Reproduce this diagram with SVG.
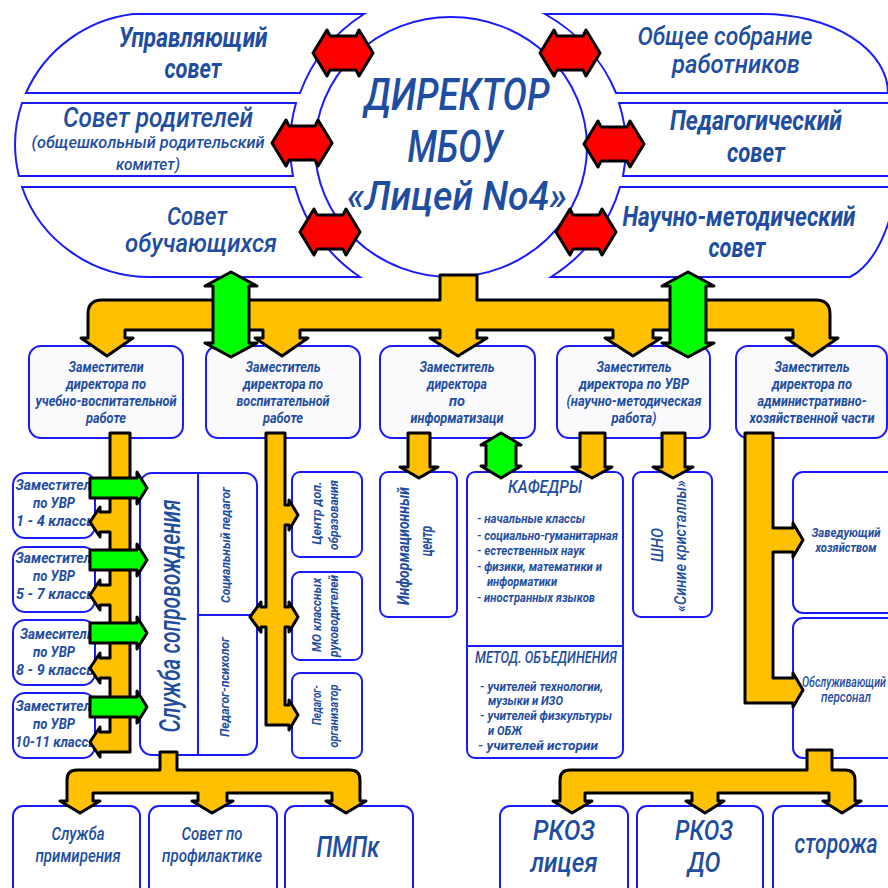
<svg xmlns="http://www.w3.org/2000/svg" width="888" height="888" viewBox="0 0 888 888">
<style>
.box{fill:#fff;stroke:#1a1aff;stroke-width:2}
.dep{fill:#fafafd;stroke:#1a1aff;stroke-width:2}
.ln{stroke:#1a1aff;stroke-width:2;fill:none}
.t{font-family:Roboto,"Liberation Sans",sans-serif;font-style:italic;font-weight:500;fill:#1f4ea1;text-anchor:middle}
.s{text-anchor:start}
.b{font-weight:bold}
.y{fill:#ffc000;stroke:#000;stroke-width:3;stroke-linejoin:round}
.g{fill:#00ff00;stroke:#000;stroke-width:3;stroke-linejoin:round}
.r{fill:#ff0000;stroke:#000;stroke-width:3;stroke-linejoin:round}
</style>
<defs>
<path id="red" d="M-30,0 L-16,-23 L-13,-17 L13,-17 L16,-23 L30,0 L16,23 L13,17 L-13,17 L-16,23 Z"/>
<path id="grn" d="M0,0 L26,14 L18,14 L18,71 L26,71 L0,85 L-26,71 L-18,71 L-18,14 L-26,14 Z"/>
<path id="gr" d="M0,-10 L47,-10 L47,-16 L57,0 L47,16 L47,10 L0,10 Z"/>
</defs>
<rect width="888" height="888" fill="#fff"/>

<g id="upravl">
<path class="box" d="M133,14 L364,14 A161 158 0 0 0 300,93 L26,93 A135 132 0 0 1 133,14 Z"/>
<text class="t b" x="193" y="47" font-size="27" textLength="149" lengthAdjust="spacingAndGlyphs">Управляющий</text>
<text class="t b" x="193" y="78" font-size="27" textLength="57" lengthAdjust="spacingAndGlyphs">совет</text>
</g>
<g id="roditeli">
<path class="box" d="M22,103 L296,103 A161 158 0 0 0 293,176 L19,176 A135 132 0 0 1 22,103 Z"/>
<text class="t" x="158" y="127" font-size="27" textLength="190" lengthAdjust="spacingAndGlyphs">Совет родителей</text>
<text class="t" x="148" y="148" font-size="16" textLength="233" lengthAdjust="spacingAndGlyphs">(общешкольный родительский</text>
<text class="t" x="148" y="170" font-size="16" textLength="64" lengthAdjust="spacingAndGlyphs">комитет)</text>
</g>
<g id="obuch">
<path class="box" d="M22,187 L295,187 A161 158 0 0 0 360,277 L150,277 A135 132 0 0 1 22,187 Z"/>
<text class="t" x="197" y="225" font-size="25" textLength="60" lengthAdjust="spacingAndGlyphs">Совет</text>
<text class="t" x="201" y="252" font-size="25" textLength="152" lengthAdjust="spacingAndGlyphs">обучающихся</text>
</g>
<g id="sobranie">
<path class="box" d="M545,14 L763,14 A125 79 0 0 1 888,93 L616,93 A175 158 0 0 0 545,14 Z"/>
<text class="t" x="725" y="45" font-size="25" textLength="175" lengthAdjust="spacingAndGlyphs">Общее собрание</text>
<text class="t" x="736" y="73" font-size="25" textLength="128" lengthAdjust="spacingAndGlyphs">работников</text>
</g>
<g id="pedsovet">
<path class="box" d="M619,103 L895,103 L895,176 L623,176 A175 158 0 0 0 619,103 Z"/>
<text class="t b" x="756" y="130" font-size="27" textLength="172" lengthAdjust="spacingAndGlyphs">Педагогический</text>
<text class="t b" x="756" y="162" font-size="27" textLength="58" lengthAdjust="spacingAndGlyphs">совет</text>
</g>
<g id="nms">
<path class="box" d="M620,187 L895,187 L895,200 Q880,262 850,277 L551,277 A175 158 0 0 0 620,187 Z"/>
<text class="t b" x="739" y="226" font-size="27" textLength="233" lengthAdjust="spacingAndGlyphs">Научно-методический</text>
<text class="t b" x="737" y="257" font-size="27" textLength="57" lengthAdjust="spacingAndGlyphs">совет</text>
</g>
<g id="director">
<ellipse class="box" cx="451" cy="147" rx="136" ry="130"/>
<text class="t" x="457" y="110" font-size="45" textLength="185" lengthAdjust="spacingAndGlyphs">ДИРЕКТОР</text>
<text class="t" x="455" y="162" font-size="45" textLength="95" lengthAdjust="spacingAndGlyphs">МБОУ</text>
<text class="t" x="457" y="210" font-size="40" textLength="220" lengthAdjust="spacingAndGlyphs">«Лицей No4»</text>
</g>

<g id="dep1">
<rect class="dep" x="29" y="346" width="154" height="92" rx="12"/>
<text class="t b" x="106" y="372" font-size="14" textLength="75" lengthAdjust="spacingAndGlyphs">Заместители</text>
<text class="t b" x="106" y="389" font-size="14" textLength="80" lengthAdjust="spacingAndGlyphs">директора по</text>
<text class="t b" x="106" y="406" font-size="14" textLength="141" lengthAdjust="spacingAndGlyphs">учебно-воспитательной</text>
<text class="t b" x="106" y="423" font-size="14" textLength="40" lengthAdjust="spacingAndGlyphs">работе</text>
</g>
<g id="dep2">
<rect class="dep" x="206" y="346" width="154" height="92" rx="12"/>
<text class="t b" x="283" y="372" font-size="14" textLength="75" lengthAdjust="spacingAndGlyphs">Заместитель</text>
<text class="t b" x="283" y="389" font-size="14" textLength="80" lengthAdjust="spacingAndGlyphs">директора по</text>
<text class="t b" x="283" y="406" font-size="14" textLength="93" lengthAdjust="spacingAndGlyphs">воспитательной</text>
<text class="t b" x="283" y="423" font-size="14" textLength="40" lengthAdjust="spacingAndGlyphs">работе</text>
</g>
<g id="dep3">
<rect class="dep" x="380" y="346" width="155" height="92" rx="12"/>
<text class="t b" x="457" y="372" font-size="14" textLength="75" lengthAdjust="spacingAndGlyphs">Заместитель</text>
<text class="t b" x="457" y="389" font-size="14" textLength="60" lengthAdjust="spacingAndGlyphs">директора</text>
<text class="t b" x="457" y="406" font-size="14" textLength="16" lengthAdjust="spacingAndGlyphs">по</text>
<text class="t b" x="457" y="423" font-size="14" textLength="93" lengthAdjust="spacingAndGlyphs">информатизаци</text>
</g>
<g id="dep4">
<rect class="dep" x="557" y="346" width="153" height="92" rx="12"/>
<text class="t b" x="634" y="372" font-size="14" textLength="75" lengthAdjust="spacingAndGlyphs">Заместитель</text>
<text class="t b" x="634" y="389" font-size="14" textLength="110" lengthAdjust="spacingAndGlyphs">директора по УВР</text>
<text class="t b" x="634" y="406" font-size="14" textLength="135" lengthAdjust="spacingAndGlyphs">(научно-методическая</text>
<text class="t b" x="634" y="423" font-size="14" textLength="45" lengthAdjust="spacingAndGlyphs">работа)</text>
</g>
<g id="dep5">
<rect class="dep" x="736" y="346" width="151" height="92" rx="12"/>
<text class="t b" x="812" y="372" font-size="14" textLength="75" lengthAdjust="spacingAndGlyphs">Заместитель</text>
<text class="t b" x="812" y="389" font-size="14" textLength="80" lengthAdjust="spacingAndGlyphs">директора по</text>
<text class="t b" x="812" y="406" font-size="14" textLength="109" lengthAdjust="spacingAndGlyphs">административно-</text>
<text class="t b" x="812" y="423" font-size="14" textLength="125" lengthAdjust="spacingAndGlyphs">хозяйственной части</text>
</g>

<g id="uvr14">
<rect class="box" x="13" y="473" width="82" height="65" rx="12"/>
<text class="t b" x="57" y="490" font-size="15" textLength="83" lengthAdjust="spacingAndGlyphs">Заместитель</text>
<text class="t b" x="54" y="508" font-size="15" textLength="42" lengthAdjust="spacingAndGlyphs">по УВР</text>
<text class="t b" x="57" y="526" font-size="15" textLength="82" lengthAdjust="spacingAndGlyphs">1 - 4 классы</text>
</g>
<g id="uvr57">
<rect class="box" x="13" y="547" width="82" height="65" rx="12"/>
<text class="t b" x="57" y="563" font-size="15" textLength="83" lengthAdjust="spacingAndGlyphs">Заместитель</text>
<text class="t b" x="54" y="581" font-size="15" textLength="42" lengthAdjust="spacingAndGlyphs">по УВР</text>
<text class="t b" x="57" y="599" font-size="15" textLength="82" lengthAdjust="spacingAndGlyphs">5 - 7 классы</text>
</g>
<g id="uvr89">
<rect class="box" x="13" y="620" width="82" height="65" rx="12"/>
<text class="t b" x="57" y="639" font-size="15" textLength="74" lengthAdjust="spacingAndGlyphs">Замеситель</text>
<text class="t b" x="54" y="657" font-size="15" textLength="42" lengthAdjust="spacingAndGlyphs">по УВР</text>
<text class="t b" x="57" y="675" font-size="15" textLength="82" lengthAdjust="spacingAndGlyphs">8 - 9 классы</text>
</g>
<g id="uvr1011">
<rect class="box" x="13" y="693" width="82" height="65" rx="12"/>
<text class="t b" x="57" y="711" font-size="15" textLength="83" lengthAdjust="spacingAndGlyphs">Заместитель</text>
<text class="t b" x="54" y="729" font-size="15" textLength="42" lengthAdjust="spacingAndGlyphs">по УВР</text>
<text class="t b" x="57" y="747" font-size="15" textLength="84" lengthAdjust="spacingAndGlyphs">10-11 классы</text>
</g>

<g id="sluzhba">
<rect class="box" x="140" y="473" width="117" height="282" rx="12"/>
<path class="ln" d="M198,473 L198,755 M198,615 L257,615"/>
<text class="t" transform="translate(180,616) rotate(-90)" font-size="30" textLength="233" lengthAdjust="spacingAndGlyphs">Служба сопровождения</text>
<text class="t b" transform="translate(230,545) rotate(-90)" font-size="13" textLength="116" lengthAdjust="spacingAndGlyphs">Социальный педагог</text>
<text class="t b" transform="translate(229,687) rotate(-90)" font-size="13" textLength="100" lengthAdjust="spacingAndGlyphs">Педагог-психолог</text>
</g>

<g id="centr">
<rect class="box" x="292" y="472" width="70" height="85" rx="8"/>
<text class="t b" transform="translate(321,513) rotate(-90)" font-size="13" textLength="63" lengthAdjust="spacingAndGlyphs">Центр доп.</text>
<text class="t b" transform="translate(338,515) rotate(-90)" font-size="13" textLength="70" lengthAdjust="spacingAndGlyphs">образования</text>
</g>
<g id="mo">
<rect class="box" x="292" y="572" width="70" height="88" rx="8"/>
<text class="t b" transform="translate(321,615) rotate(-90)" font-size="13" textLength="74" lengthAdjust="spacingAndGlyphs">МО классных</text>
<text class="t b" transform="translate(338,616) rotate(-90)" font-size="13" textLength="82" lengthAdjust="spacingAndGlyphs">руководителей</text>
</g>
<g id="pedorg">
<rect class="box" x="292" y="673" width="70" height="85" rx="8"/>
<text class="t b" transform="translate(321,705) rotate(-90)" font-size="13" textLength="40" lengthAdjust="spacingAndGlyphs">Педагог-</text>
<text class="t b" transform="translate(338,716) rotate(-90)" font-size="13" textLength="63" lengthAdjust="spacingAndGlyphs">организатор</text>
</g>

<g id="infocentr">
<rect class="box" x="380" y="472" width="77" height="145" rx="8"/>
<text class="t b" transform="translate(409,546) rotate(-90)" font-size="17" textLength="118" lengthAdjust="spacingAndGlyphs">Информационный</text>
<text class="t b" transform="translate(432,541) rotate(-90)" font-size="17" textLength="30" lengthAdjust="spacingAndGlyphs">центр</text>
</g>

<g id="kafedry">
<rect class="box" x="467" y="472" width="156" height="286" rx="8"/>
<path class="ln" d="M467,646 L623,646"/>
<text class="t" x="545" y="493" font-size="18" textLength="74" lengthAdjust="spacingAndGlyphs">КАФЕДРЫ</text>
<text class="t b s" x="477" y="523" font-size="13" textLength="108" lengthAdjust="spacingAndGlyphs">- начальные классы</text>
<text class="t b s" x="477" y="540" font-size="13" textLength="141" lengthAdjust="spacingAndGlyphs">- социально-гуманитарная</text>
<text class="t b s" x="477" y="555" font-size="13" textLength="108" lengthAdjust="spacingAndGlyphs">- естественных наук</text>
<text class="t b s" x="477" y="571" font-size="13" textLength="125" lengthAdjust="spacingAndGlyphs">- физики, математики и</text>
<text class="t b s" x="487" y="586" font-size="13" textLength="70" lengthAdjust="spacingAndGlyphs">информатики</text>
<text class="t b s" x="477" y="602" font-size="13" textLength="118" lengthAdjust="spacingAndGlyphs">- иностранных языков</text>
<text class="t" x="546" y="663" font-size="16" textLength="142" lengthAdjust="spacingAndGlyphs">МЕТОД. ОБЪЕДИНЕНИЯ</text>
<text class="t b s" x="480" y="691" font-size="13" textLength="123" lengthAdjust="spacingAndGlyphs">- учителей технологии,</text>
<text class="t b s" x="488" y="705" font-size="13" textLength="75" lengthAdjust="spacingAndGlyphs">музыки и ИЗО</text>
<text class="t b s" x="480" y="720" font-size="13" textLength="132" lengthAdjust="spacingAndGlyphs">- учителей физкультуры</text>
<text class="t b s" x="488" y="735" font-size="13" textLength="34" lengthAdjust="spacingAndGlyphs">и ОБЖ</text>
<text class="t b s" x="478" y="750" font-size="13" textLength="120" lengthAdjust="spacingAndGlyphs">- учителей истории</text>
</g>

<g id="shno">
<rect class="box" x="633" y="472" width="79" height="145" rx="8"/>
<text class="t" transform="translate(663,545) rotate(-90)" font-size="16" textLength="34" lengthAdjust="spacingAndGlyphs">ШНО</text>
<text class="t" transform="translate(686,546) rotate(-90)" font-size="16" textLength="132" lengthAdjust="spacingAndGlyphs">«Синие кристаллы»</text>
</g>

<g id="zavhoz">
<rect class="box" x="793" y="472" width="110" height="141" rx="10"/>
<text class="t b" x="846" y="537" font-size="13" textLength="69" lengthAdjust="spacingAndGlyphs">Заведующий</text>
<text class="t b" x="846" y="552" font-size="13" textLength="61" lengthAdjust="spacingAndGlyphs">хозяйством</text>
</g>
<g id="obsl">
<rect class="box" x="793" y="618" width="110" height="140" rx="10"/>
<text class="t s" x="802" y="687" font-size="14" textLength="84" lengthAdjust="spacingAndGlyphs">Обслуживающий</text>
<text class="t" x="846" y="702" font-size="14" textLength="50" lengthAdjust="spacingAndGlyphs">персонал</text>
</g>

<g id="primirenie">
<rect class="box" x="13" y="806" width="127" height="100" rx="10"/>
<text class="t" x="78" y="840" font-size="18" textLength="53" lengthAdjust="spacingAndGlyphs">Служба</text>
<text class="t" x="78" y="862" font-size="18" textLength="85" lengthAdjust="spacingAndGlyphs">примирения</text>
</g>
<g id="profilaktika">
<rect class="box" x="149" y="806" width="128" height="100" rx="10"/>
<text class="t" x="212" y="840" font-size="18" textLength="61" lengthAdjust="spacingAndGlyphs">Совет по</text>
<text class="t" x="212" y="862" font-size="18" textLength="100" lengthAdjust="spacingAndGlyphs">профилактике</text>
</g>
<g id="pmpk">
<rect class="box" x="285" y="806" width="128" height="100" rx="10"/>
<text class="t" x="348" y="857" font-size="30" textLength="63" lengthAdjust="spacingAndGlyphs">ПМПк</text>
</g>
<g id="rkoz">
<rect class="box" x="500" y="806" width="128" height="100" rx="10"/>
<text class="t" x="564" y="840" font-size="28" textLength="62" lengthAdjust="spacingAndGlyphs">РКОЗ</text>
<text class="t" x="564" y="872" font-size="28" textLength="67" lengthAdjust="spacingAndGlyphs">лицея</text>
</g>
<g id="rkozdo">
<rect class="box" x="637" y="806" width="126" height="100" rx="10"/>
<text class="t" x="704" y="840" font-size="28" textLength="58" lengthAdjust="spacingAndGlyphs">РКОЗ</text>
<text class="t" x="704" y="872" font-size="28" textLength="33" lengthAdjust="spacingAndGlyphs">ДО</text>
</g>
<g id="storozha">
<rect class="box" x="773" y="806" width="130" height="100" rx="10"/>
<text class="t" x="836" y="853" font-size="28" textLength="83" lengthAdjust="spacingAndGlyphs">сторожа</text>
</g>

<g id="connectors">
<use href="#red" class="r" x="343" y="53"/>
<use href="#red" class="r" x="302" y="143"/>
<use href="#red" class="r" x="330" y="232"/>
<use href="#red" class="r" x="570" y="53"/>
<use href="#red" class="r" x="614" y="144"/>
<use href="#red" class="r" x="586" y="232"/>
<path class="y" d="M440,275 L477,275 L477,300 L816,300 Q830,300 830,314 L830,338 L838,338 L812,356 L786,338 L793,338 L793,330 L653,330 L653,338 L661,338 L633,356 L605,338 L613,338 L613,330 L477,330 L477,338 L487,338 L458,356 L430,338 L440,338 L440,330 L300,330 L300,338 L308,338 L282,356 L255,338 L263,338 L263,330 L125,330 L125,338 L133,338 L107,356 L81,338 L88,338 L88,314 Q88,300 102,300 L440,300 Z"/>
<use href="#grn" class="g" x="231" y="272"/>
<use href="#grn" class="g" x="688" y="272"/>
<path class="y" d="M110,433 L130,433 L130,752 L100,752 L100,757 L90,742 L100,727 L100,732 L110,732 L110,678 L100,678 L100,683 L90,668 L100,653 L100,658 L110,658 L110,605 L100,605 L100,610 L90,595 L100,580 L100,585 L110,585 L110,532 L100,532 L100,537 L90,522 L100,507 L100,512 L110,512 Z"/>
<use href="#gr" class="g" x="90" y="488"/>
<use href="#gr" class="g" x="90" y="560"/>
<use href="#gr" class="g" x="90" y="633"/>
<use href="#gr" class="g" x="90" y="707"/>
<path class="y" d="M266,433 L285,433 L285,505 L289,505 L289,500 L298,515 L289,530 L289,525 L285,525 L285,607 L289,607 L289,602 L298,617 L289,632 L289,627 L285,627 L285,705 L289,705 L289,700 L298,715 L289,730 L289,725 L266,725 L266,627 L261,627 L261,632 L250,617 L261,602 L261,607 L266,607 Z"/>
<path class="y" d="M408,433 L430,433 L430,467 L438,467 L419,478 L400,467 L408,467 Z"/>
<path class="g" d="M501,433 L521,445 L516,445 L516,466 L521,466 L501,478 L481,466 L486,466 L486,445 L481,445 Z"/>
<path class="y" d="M580,433 L605,433 L605,467 L612,467 L592,478 L572,467 L580,467 Z"/>
<path class="y" d="M662,433 L685,433 L685,467 L693,467 L673,478 L653,467 L662,467 Z"/>
<path class="y" d="M745,433 L773,433 L773,528 L793,528 L793,523 L803,540 L793,557 L793,552 L773,552 L773,678 L793,678 L793,673 L803,690 L793,707 L793,703 L745,703 Z"/>
<path class="y" d="M160,752 L177,752 L177,770 L350,770 Q360,770 360,780 L360,801 L366,801 L346,813 L326,801 L332,801 L332,793 L227,793 L227,801 L233,801 L212,813 L192,801 L198,801 L198,793 L93,793 L93,801 L100,801 L80,813 L60,801 L67,801 L67,780 Q67,770 77,770 L160,770 Z"/>
<path class="y" d="M807,750 L832,750 L832,770 L845,770 Q855,770 855,780 L855,801 L861,801 L842,813 L823,801 L829,801 L829,793 L718,793 L718,801 L724,801 L705,813 L686,801 L692,801 L692,793 L585,793 L585,801 L592,801 L572,813 L553,801 L560,801 L560,780 Q560,770 570,770 L807,770 Z"/>
</g>
</svg>
